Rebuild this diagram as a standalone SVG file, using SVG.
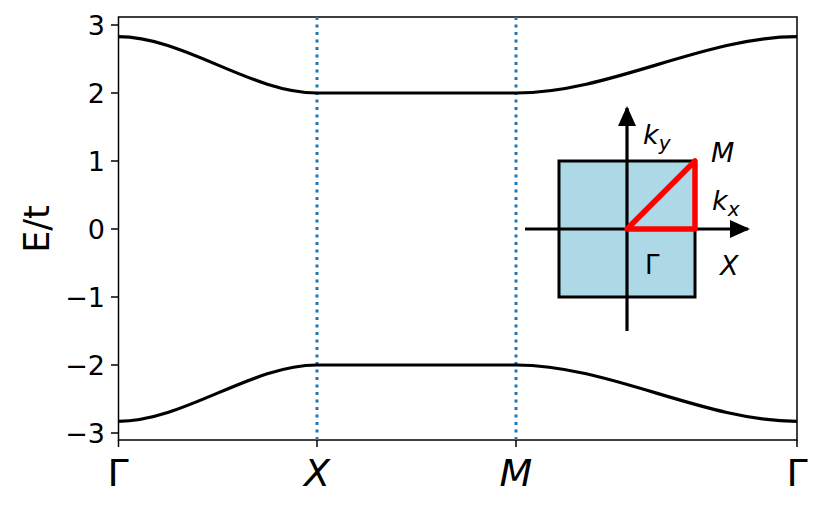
<svg xmlns="http://www.w3.org/2000/svg" width="830" height="508" viewBox="0 0 830 508">
<style>
.t{font-family:"DejaVu Sans",sans-serif;font-size:27px;fill:#000}
.band{fill:none;stroke:#000;stroke-width:3.2}
.tk{stroke:#000;stroke-width:1.5}
.vl{stroke:#1f77b4;stroke-width:3;stroke-dasharray:3,4.5}
.ax{stroke:#000;stroke-width:3.2}
.lab{font-family:"DejaVu Sans",sans-serif;font-size:27px;font-style:italic}
</style>
<defs>
<marker id="ah2" markerWidth="20" markerHeight="18" refX="18" refY="9" orient="auto" markerUnits="userSpaceOnUse" viewBox="0 0 20 18"><path d="M0,0 L20,9 L0,18 z"/></marker>
</defs>
<rect width="830" height="508" fill="#fff"/>
<g id="axes">
<rect x="118.5" y="17" width="678.5" height="423" fill="none" stroke="#000" stroke-width="1.5"/>
<g class="tk">
<line x1="111" y1="25" x2="118" y2="25"/><line x1="111" y1="93" x2="118" y2="93"/><line x1="111" y1="161" x2="118" y2="161"/><line x1="111" y1="229" x2="118" y2="229"/><line x1="111" y1="297" x2="118" y2="297"/><line x1="111" y1="365" x2="118" y2="365"/><line x1="111" y1="433" x2="118" y2="433"/>
<line x1="118.5" y1="440" x2="118.5" y2="447"/><line x1="317" y1="440" x2="317" y2="447"/><line x1="516" y1="440" x2="516" y2="447"/><line x1="797" y1="440" x2="797" y2="447"/>
</g>
<g class="t" text-anchor="end">
<text x="105" y="35">3</text><text x="105" y="103">2</text><text x="105" y="171">1</text><text x="105" y="239">0</text><text x="105" y="307">−1</text><text x="105" y="375">−2</text><text x="105" y="443">−3</text>
</g>
<g font-family="DejaVu Sans,sans-serif" font-size="38" text-anchor="middle">
<text x="118" y="486">Γ</text><text x="317" y="486" font-style="italic">X</text><text x="516" y="486" font-style="italic">M</text><text x="797" y="486">Γ</text>
</g>
<text transform="translate(49,229) rotate(-90)" font-family="DejaVu Sans,sans-serif" font-size="35" text-anchor="middle">E/t</text>
</g>
<g id="guides">
<line class="vl" x1="317" y1="17" x2="317" y2="440"/>
<line class="vl" x1="516" y1="17" x2="516" y2="440"/>
</g>
<g id="bands">
<path class="band" d="M118,36.7 C184.3,36.7 250.7,93 317,93 L516,93 C609.7,93 703.3,36.7 797,36.7"/>
<path class="band" d="M118,421.3 C184.3,421.3 250.7,365 317,365 L516,365 C609.7,365 703.3,421.3 797,421.3"/>
</g>
<g id="inset">
<rect x="559" y="161" width="136" height="136" fill="#add8e6" stroke="#000" stroke-width="3"/>
<line class="ax" x1="525" y1="229" x2="748" y2="229" marker-end="url(#ah2)"/>
<line class="ax" x1="627" y1="331" x2="627" y2="108" marker-end="url(#ah2)"/>
<polygon points="627,229 695,161 695,229" fill="none" stroke="#f00" stroke-width="5.5" stroke-linejoin="round"/>
<text class="lab" x="643" y="144">k<tspan font-size="20" dy="6">y</tspan></text>
<text class="lab" x="711" y="162">M</text>
<text class="lab" x="712" y="210">k<tspan font-size="20" dy="6">x</tspan></text>
<text class="lab" x="720" y="275">X</text>
<text x="645" y="274" font-family="DejaVu Sans,sans-serif" font-size="26">Γ</text>
</g>
</svg>
